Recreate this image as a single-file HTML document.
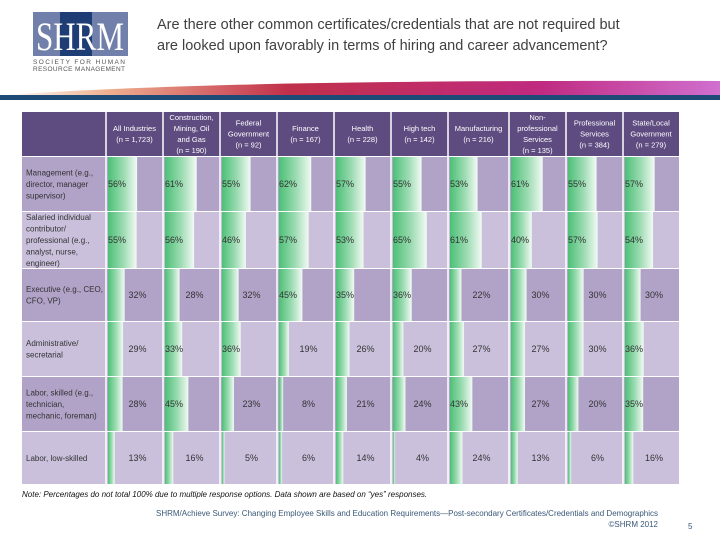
<!DOCTYPE html>
<html><head><meta charset="utf-8"><style>
body{margin:0;width:720px;height:540px;background:#fff;overflow:hidden;font-family:"Liberation Sans",sans-serif}
</style></head><body>
<svg width="720" height="540" xmlns="http://www.w3.org/2000/svg">
<defs>
<linearGradient id="bar" x1="0" x2="1" y1="0" y2="0"><stop offset="0" stop-color="#4cc076"/><stop offset="0.55" stop-color="#9fdcb4"/><stop offset="1" stop-color="#f2faf4"/></linearGradient>
<linearGradient id="swoosh" x1="0" x2="1"><stop offset="0" stop-color="#fff"/><stop offset="0.15" stop-color="#f0b090"/><stop offset="0.4" stop-color="#c0304a"/><stop offset="0.75" stop-color="#c02a80"/><stop offset="1" stop-color="#d070d0"/></linearGradient>
</defs>
<g>
<rect x="33" y="12" width="95" height="44" fill="#7180aa"/>
<rect x="60" y="12" width="32" height="44" fill="#1f3d75"/>
<text x="80" y="50" font-family="Liberation Serif,serif" font-size="40" fill="#fff" text-anchor="middle" textLength="88" lengthAdjust="spacingAndGlyphs">SHRM</text>
<text x="33" y="64" font-size="6.5" fill="#555" textLength="92">SOCIETY FOR HUMAN</text>
<text x="33" y="71" font-size="6.5" fill="#555" textLength="92">RESOURCE MANAGEMENT</text>
</g>
<text font-size="14.5" fill="#404040"><tspan x="157" y="29">Are there other common certificates/credentials that are not required but</tspan><tspan x="157" y="50">are looked upon favorably in terms of hiring and career advancement?</tspan></text>
<path d="M0 95 C150 86 300 80 720 81 L720 95 Z" fill="url(#swoosh)"/>
<rect x="0" y="95" width="720" height="5" fill="#1e4a78"/>
<g id="tbl"></g>
<text x="22" y="497" font-size="8" font-style="italic" fill="#111">Note: Percentages do not total 100% due to multiple response options. Data shown are based on “yes” responses.</text>
<text x="658" y="516" font-size="8" fill="#3a5878" text-anchor="end">SHRM/Achieve Survey: Changing Employee Skills and Education Requirements—Post-secondary Certificates/Credentials and Demographics</text>
<text x="658" y="527" font-size="8" fill="#3a5878" text-anchor="end">©SHRM 2012</text>
<text x="688" y="529" font-size="8" fill="#3a5878">5</text>
</svg>
<script>
const industries=["All Industries|(n = 1,723)","Construction,|Mining, Oil|and Gas|(n = 190)","Federal|Government|(n = 92)","Finance|(n = 167)","Health|(n = 228)","High tech|(n = 142)","Manufacturing|(n = 216)","Non-|professional|Services|(n = 135)","Professional|Services|(n = 384)","State/Local|Government|(n = 279)"];
const roles=["Management (e.g.,|director, manager|supervisor)","Salaried individual|contributor/|professional (e.g.,|analyst, nurse,|engineer)","Executive (e.g., CEO,|CFO, VP)","Administrative/|secretarial","Labor, skilled (e.g.,|technician,|mechanic, foreman)","Labor, low-skilled"];
const management=[56,61,55,62,57,55,53,61,55,57];
const salaried=[55,56,46,57,53,65,61,40,57,54];
const executive=[32,28,32,45,35,36,22,30,30,30];
const administrative=[29,33,36,19,26,20,27,27,30,36];
const laborSkilled=[28,45,23,8,21,24,43,27,20,35];
const laborLow=[13,16,5,6,14,4,24,13,6,16];
const values=[management,salaried,executive,administrative,laborSkilled,laborLow];

const NS="http://www.w3.org/2000/svg";
const g=document.getElementById('tbl');
const colX=[22,106,163,220,277,334,391,448,509,566,623,679];
const rowY=[112,156,211,268,321,376,431,484];
function el(t,a,p){const e=document.createElementNS(NS,t);for(const k in a)e.setAttribute(k,a[k]);(p||g).appendChild(e);return e;}
function lines(x,yc,str,anchor,fill,size,lh){const ls=str.split('|');const y0=yc-(ls.length-1)*lh/2+size*0.35;
 const t=el('text',{x:x,'font-size':size,fill:fill,'text-anchor':anchor});
 ls.forEach((s,i)=>{const ts=document.createElementNS(NS,'tspan');ts.setAttribute('x',x);ts.setAttribute('y',y0+i*lh);ts.textContent=s;t.appendChild(ts);});return t;}
function xScale(v){return 52*v/100;}
const hdr=el('rect',{x:colX[0],y:rowY[0],width:colX[11]-colX[0],height:rowY[1]-rowY[0],fill:'#5e4b80'});

industries.forEach((h,c)=>{const t=lines((colX[c+1]+colX[c+2])/2,(rowY[0]+rowY[1])/2,h,'middle','#fff',7.5,11);
 });
roles.forEach((r,i)=>{
 const y0=rowY[i+1]+1,h=rowY[i+2]-rowY[i+1]-1;const fill=i%2==0?'#b1a2c8':'#cac0dc';
 const bg=el('rect',{x:colX[0],y:y0,width:colX[11]-colX[0],height:h,fill:fill});
 
 const lb=lines(colX[0]+4,y0+h/2,r,'start','#333',8,11.5);
 
 values[i].forEach((v,c)=>{
  const x=colX[c+1]+2;const w=xScale(v);
  const b=el('rect',{x:x,y:y0,width:w,height:h,fill:'url(#bar)'});
  
  const inside=v>=33;
  const tx=inside?x:(colX[c+1]+colX[c+2])/2+3;
  const t=el('text',{x:tx,y:y0+h/2+3,'font-size':9,fill:'#333','text-anchor':inside?'start':'middle'});
  t.textContent=v+'%';
  
 });
});
colX.slice(1,11).forEach(x=>{const l=el('line',{x1:x,x2:x,y1:rowY[0],y2:rowY[7],stroke:'#fff','stroke-width':1.5});
 });
</script>
</body></html>
